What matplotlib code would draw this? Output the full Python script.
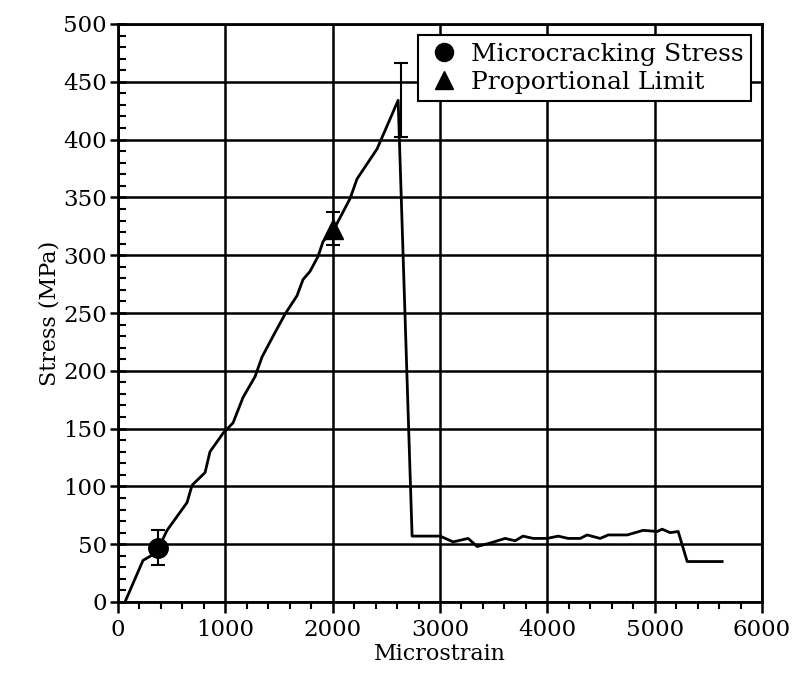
import matplotlib
matplotlib.use("Agg")
import matplotlib.pyplot as plt
from matplotlib.ticker import MultipleLocator
from matplotlib.lines import Line2D

plt.rcParams['font.family'] = ['DejaVu Serif']

# Stress-strain curve (microstrain, MPa)
strain = [65, 233, 326, 375, 457, 643, 690, 811, 857, 979, 1072, 1165, 1277,
          1342, 1445, 1556, 1668, 1724, 1789, 1864, 1911, 2004, 2162, 2227,
          2414, 2610, 2740, 3001, 3122, 3262, 3346, 3467, 3607, 3700, 3774,
          3868, 3998, 4101, 4194, 4306, 4371, 4492, 4567, 4744, 4893, 5023,
          5070, 5144, 5219, 5303, 5629]
stress = [0, 36, 41, 46, 62, 86, 101, 112, 130, 146, 155, 177, 195,
          212, 230, 249, 265, 279, 286, 299, 312, 321, 349, 366,
          392, 434, 57, 57, 52, 55, 48, 51, 55, 53, 57,
          55, 55, 57, 55, 55, 58, 55, 58, 58, 62, 61,
          63, 60, 61, 35, 35]

# Markers with error bars
micro_x, micro_y, micro_err = [375], [47], [15]
prop_x, prop_y, prop_err = [2004], [323], [14]
peak_x, peak_y, peak_err = [2640], [434], [32]
legend_labels = ['Microcracking Stress', 'Proportional Limit']

fig = plt.figure(figsize=(7.93, 6.82), dpi=100)
ax = fig.add_axes([118/793, 1 - 602/682, (762 - 118)/793, (602 - 24)/682])

ax.plot(strain, stress, color='black', lw=2, zorder=3)
ax.errorbar(micro_x, micro_y, yerr=micro_err, fmt='o', color='black',
            ms=14, capsize=5, elinewidth=1.5, capthick=1.5, zorder=4)
ax.errorbar(prop_x, prop_y, yerr=prop_err, fmt='^', color='black',
            ms=14, capsize=5, elinewidth=1.5, capthick=1.5, zorder=4)
ax.errorbar(peak_x, peak_y, yerr=peak_err, fmt='none', ecolor='black',
            capsize=5, elinewidth=1.5, capthick=1.5, zorder=4)

ax.set_xlim(0, 6000)
ax.set_ylim(0, 500)
ax.xaxis.set_major_locator(MultipleLocator(1000))
ax.xaxis.set_minor_locator(MultipleLocator(200))
ax.yaxis.set_major_locator(MultipleLocator(50))
ax.yaxis.set_minor_locator(MultipleLocator(10))
ax.grid(True, which='major', color='black', lw=1.8)
ax.set_axisbelow(True)

for s in ax.spines.values():
    s.set_linewidth(2)

ax.tick_params(axis='x', which='major', direction='out', length=8, width=1.8,
               labelsize=16.5, pad=4)
ax.tick_params(axis='x', which='minor', direction='out', length=5, width=1.5)
ax.tick_params(axis='y', which='major', direction='inout', length=12, width=1.8,
               labelsize=16.5, pad=2)
ax.tick_params(axis='y', which='minor', direction='in', length=6, width=1.5)

ax.set_xlabel('Microstrain', fontsize=16, labelpad=2)
ax.set_ylabel('Stress (MPa)', fontsize=16, labelpad=2)

handles = [Line2D([], [], marker='o', ls='none', color='black', ms=13),
           Line2D([], [], marker='^', ls='none', color='black', ms=13)]
leg = ax.legend(handles, legend_labels, loc='upper right', fontsize=18,
                frameon=True, fancybox=False, edgecolor='black', framealpha=1,
                borderaxespad=0.45, handletextpad=0.3, handlelength=1.5,
                borderpad=0.3, labelspacing=0.2)
leg.get_frame().set_linewidth(1.5)

fig.savefig('out.png', dpi=100)
